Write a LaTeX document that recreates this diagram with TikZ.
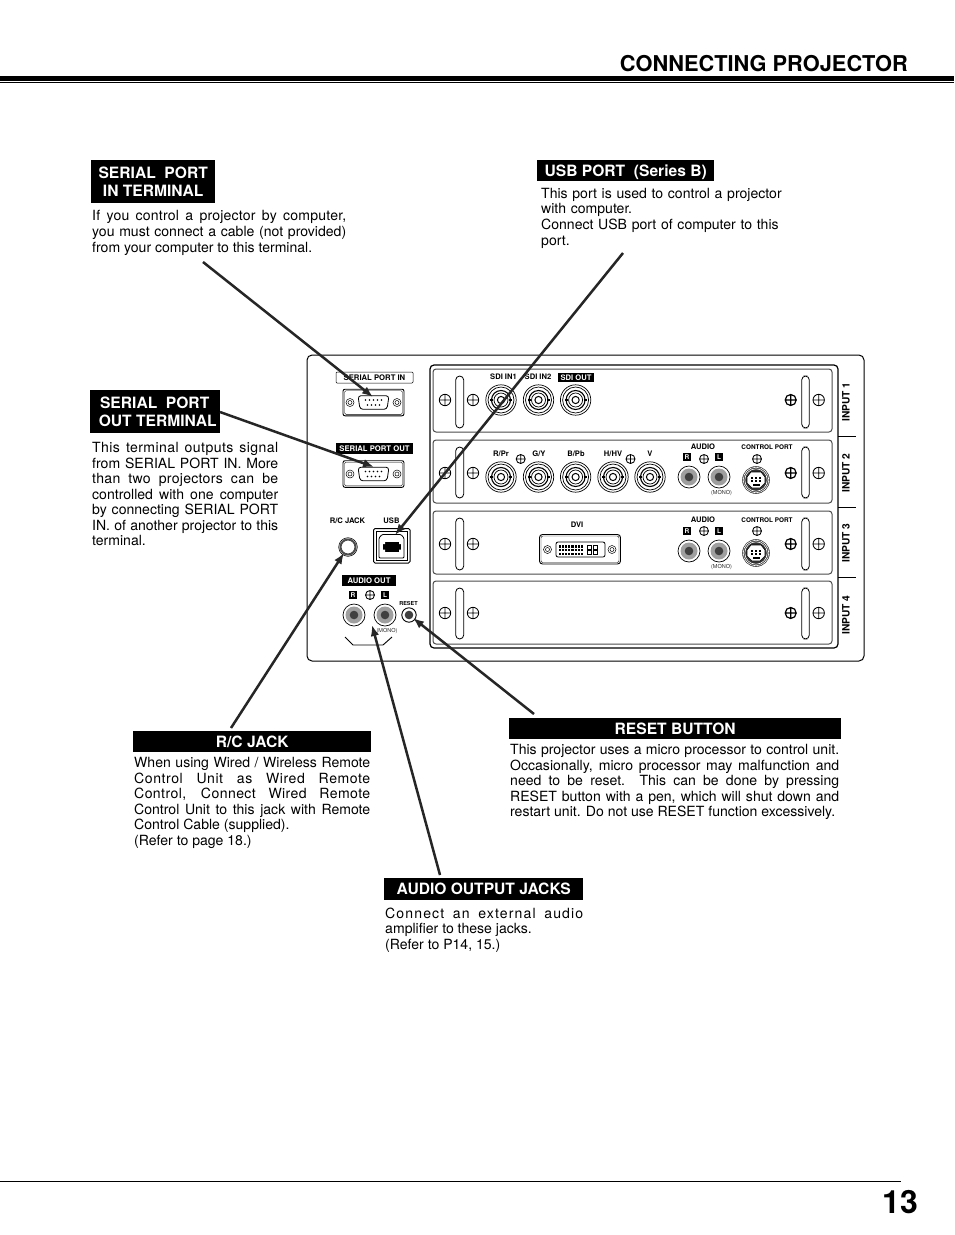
\documentclass[tikz,border=0pt]{standalone}
\usepackage{fontspec}
\setmainfont{TeX Gyre Heros}
\usetikzlibrary{arrows.meta}
\tolerance=10000 \hbadness=10000 \hfuzz=20pt
\newcommand{\LS}[2]{{\addfontfeature{LetterSpace=#1}#2}}
\newcommand{\Screw}[3][5.7]{\draw[screw] (#2,-#3) circle (#1) (#2-#1,-#3) -- (#2+#1,-#3) (#2,-#3-#1) -- (#2,-#3+#1);}
\newcommand{\BoldScrew}[2]{\draw[screw,line width=1.2pt] (#1,-#2) circle (5.5) (#1-5.5,-#2) -- (#1+5.5,-#2) (#1,-#2-5.5) -- (#1,-#2+5.5);}
\newcommand{\Bnc}[2]{\begin{scope}[shift={(#1,-#2)}]
 \draw[thin1] (0,0) circle (15.2) (0,0) circle (13) ;
 \draw[line width=1.1pt] (0,0) circle (9.5);
 \draw[thin1] (0,0) circle (7) ;
 \draw[line width=1pt] (0,0) circle (3.6);
 \draw[line width=1.2pt] (-11,0) -- (-8,0) (8,0) -- (11,0);
\end{scope}}
\newcommand{\Rca}[2]{\begin{scope}[shift={(#1,-#2)}]
 \draw[thin1,fill=white] (0,0) circle (11);
 \fill[gray!75] (0,0) circle (8.5);
 \fill[black!75] (0,0) circle (4.3);
\end{scope}}
\newcommand{\Din}[2]{\begin{scope}[shift={(#1,-#2)}]
 \fill[black!80] (0,0) circle (13.8);
 \draw[white,line width=.6pt] (0,0) circle (11.2) (0,0) circle (12.8);
 \draw[fill=white,line width=.6pt] (-9,3) -- (-9,-3) -- (-4,-8) -- (4,-8) -- (9,-3) -- (9,3) -- (5,8) -- (-5,8) -- cycle;
 \foreach \a/\b in {-4/2,0/2,4/2,-4/-1,0/-1,4/-1}{\fill (\a-1.2,\b-.9) rectangle (\a+1.2,\b+.9);}
 \fill (-3.5,-5.5) rectangle (3.5,-3.8);
\end{scope}}
\newcommand{\Dsub}[2]{\begin{scope}[shift={(#1,-#2)}]
 \draw[line width=.9pt,rounded corners=2] (-30.5,-13.3) rectangle (30.5,13.3);
 \draw[line width=.4pt,rounded corners=1.5] (-29,-11.8) rectangle (29,11.8);
 \draw[line width=.8pt,rounded corners=3] (-15.5,6.8) -- (15.5,6.8) -- (13.5,-6.8) -- (-13.5,-6.8) -- cycle;
 \foreach \a in {-8,-4,0,4,8}{\fill (\a,2.5) circle (.8);}
 \foreach \a in {-6,-2,2,6}{\fill (\a,-2.5) circle (.8);}
 \draw[line width=.5pt] (-23.5,0) circle (4) (-23.5,0) circle (2) (23.5,0) circle (4) (23.5,0) circle (2);
\end{scope}}
\tikzset{
 screw/.style={line width=.85pt,fill=white},
 thin1/.style={line width=.7pt},
 slotbox/.style={line width=1pt,draw=black!70,rounded corners=3},
 grip/.style={line width=.8pt,rounded corners=4},
 head/.style={fill=black,text=white,font=\fontsize{15.6}{18}\selectfont\bfseries,align=center,inner sep=0,minimum height=21,anchor=north west,text height=11.2,text depth=0},
 head2/.style={fill=black,text=white,font=\fontsize{15.6}{18}\selectfont\bfseries,align=center,inner sep=0,minimum height=43,anchor=north west},
 body/.style={font=\fontsize{14.05}{15.55}\selectfont,align=justify,inner sep=0,anchor=north west},
 tiny1/.style={font=\fontsize{7.6}{8}\selectfont\bfseries,inner sep=0},
 tinyw/.style={font=\fontsize{7.6}{8}\selectfont\bfseries,inner sep=0,fill=black,text=white},
 tiny2/.style={font=\fontsize{5.5}{6}\selectfont,inner sep=0,text=black!80},
 inlab/.style={font=\fontsize{10.2}{11}\selectfont\bfseries,inner sep=0,rotate=90},
 lrbox/.style={fill=black,text=white,font=\fontsize{6.5}{7}\selectfont\bfseries,inner sep=0,minimum width=8,minimum height=8},
 pointer/.style={line width=2.5pt,black!85,-{Latex[length=11pt,width=8.5pt]}},
}
\begin{document}
\begin{tikzpicture}[x=1pt,y=1pt]
\useasboundingbox (0,0) rectangle (954,-1235);
\fill[white] (0,0) rectangle (954,-1235);
% header
\node[anchor=base east,inner sep=0,font=\fontsize{21.8}{24}\selectfont\bfseries] (title) at (908,-71) {CONNECTING PROJECTOR};
\fill (0,-76) rectangle (954,-80.7);
\fill (0,-82) rectangle (954,-82.8);
\fill (0,-1181) rectangle (901,-1182);
\node[anchor=base,inner sep=0,font=\fontsize{32}{34}\selectfont\bfseries] (page) at (900,-1213) {13};
% panel
\draw[line width=1pt,rounded corners=5] (307,-355) rectangle (864,-661);
\draw[line width=1.2pt,rounded corners=4] (430,-365) rectangle (838,-648);
\foreach \t/\b in {369/432,440/503,511/574,581/644}{\draw[slotbox] (433,-\t) rectangle (832,-\b);}
\foreach \t/\b in {376/428,447/498,518/570,588/639}{
 \draw[grip] (455.7,-\t) rectangle (463.7,-\b);
 \draw[grip] (801.7,-\t) rectangle (809.3,-\b);}
\foreach \y in {400,473,544,613}{\Screw{445}{\y}\Screw{473}{\y}\BoldScrew{790.7}{\y}\Screw{818.7}{\y}}
\foreach \y in {436,507,577}{\draw[line width=.8pt] (838,-\y) -- (856,-\y);}
\node[inlab] (i1) at (846,-402) {INPUT 1};
\node[inlab] (i2) at (846,-473) {INPUT 2};
\node[inlab] (i3) at (846,-543) {INPUT 3};
\node[inlab] (i4) at (846,-615) {INPUT 4};
% left column
\node[draw,line width=.5pt,rounded corners=1,minimum width=77,minimum height=11,inner sep=0,font=\fontsize{7.7}{8}\selectfont\bfseries] (spin) at (374.5,-377.5) {SERIAL PORT IN};
\node[fill=black,text=white,minimum width=77,minimum height=11,inner sep=0,font=\fontsize{7.7}{8}\selectfont\bfseries] (spout) at (374.5,-448.5) {SERIAL PORT OUT};
\Dsub{373.5}{402.5}
\Dsub{373.5}{474}
\node[tiny1] (rc) at (347.5,-521) {R/C JACK};
\node[tiny1] (usb) at (391.5,-521) {USB};
\draw[line width=2pt,black!70,fill=white] (348,-547) circle (7.5);
\draw[line width=.6pt] (348,-547) circle (9.3);
\draw[line width=1pt,rounded corners=1.5] (373.5,-528.5) rectangle (410,-563);
\draw[line width=.5pt] (376,-531) rectangle (407.5,-560.5);
\draw[line width=.8pt,rounded corners=1] (382,-534.5) -- (401,-534.5) -- (404,-538) -- (404,-558) -- (379,-558) -- (379,-538) -- cycle;
\fill (383,-541.5) rectangle (401,-552) ;
\fill[white] (383,-541.5) rectangle (385,-544) (399,-541.5) rectangle (401,-544) (383,-549.5) rectangle (385,-552) (399,-549.5) rectangle (401,-552);
\node[fill=black,text=white,minimum width=54,minimum height=11,inner sep=0,font=\fontsize{7.7}{8}\selectfont\bfseries] (aout) at (369,-580.5) {AUDIO OUT};
\node[lrbox] (or) at (353,-595) {R};
\node[lrbox] (ol) at (385,-595) {L};
\Screw[4.5]{370}{595}
\Rca{354}{615}
\Rca{385}{615}
\node[tiny1,font=\fontsize{5.5}{6}\selectfont\bfseries] (rs) at (408.5,-603) {RESET};
\draw[line width=.9pt] (409,-615) circle (7.2);
\fill[black!75] (409,-615) circle (4.3);
\node[tiny2] (omono) at (387,-631) {(MONO)};
\draw[line width=.9pt] (345,-637) -- (353,-645) -- (383,-645) -- (392,-637);
% row 1
\node[tiny1] (sd1) at (503.5,-377) {SDI IN1};
\node[tiny1] (sd2) at (538,-377) {SDI IN2};
\node[tinyw,minimum width=36,minimum height=9] (sd3) at (576,-377.5) {SDI OUT};
\Bnc{501}{400}\Bnc{538.5}{400}\Bnc{575.6}{400}
% row 2
\node[tiny1] (r1) at (501,-454) {R/Pr};
\node[tiny1] (r2) at (539,-454) {G/Y};
\node[tiny1] (r3) at (576,-454) {B/Pb};
\node[tiny1] (r4) at (613,-454) {H/HV};
\node[tiny1] (r5) at (650,-454) {V};
\foreach \x in {501,538.5,575.6,613,650}{\Bnc{\x}{477}}
\Screw[4.5]{520.7}{459}\Screw[4.5]{630.5}{459}
% row 2/3 audio
\foreach \n/\t/\b/\s/\j/\m/\d in {a/447/457/459/477/493/480,b/520/531/531/551/567/553}{
 \node[tiny1] (au\n) at (703,-\t) {AUDIO};
 \node[tiny1,font=\fontsize{6.4}{7}\selectfont\bfseries] (cp\n) at (767,-\t) {CONTROL PORT};
 \node[lrbox] (lr\n) at (687,-\b) {R};
 \node[lrbox] (ll\n) at (719,-\b) {L};
 \Screw[4.5]{704}{\s}\Screw[4.5]{757}{\s}
 \Rca{689}{\j}\Rca{719}{\j}
 \node[tiny2] (mo\n) at (721.5,-\m) {(MONO)};
 \Din{756}{\d}
}
% DVI
\node[tiny1] (dvi) at (577,-525) {DVI};
\draw[line width=.9pt,rounded corners=3] (539.5,-534.5) rectangle (620.5,-564);
\draw[line width=.4pt,rounded corners=2] (541,-536) rectangle (619,-562.5);
\draw[line width=.8pt,rounded corners=2] (556,-542) -- (605,-542) -- (605,-557) -- (556,-557) -- cycle;
\foreach \i in {0,...,7}{\foreach \j in {0,1,2}{\fill (558.5+\i*3.2,-545-\j*3.8) rectangle +(2.2,-2.5);}}
\foreach \i in {0,1}{\foreach \j in {0,1}{\draw[line width=.5pt] (587+\i*6,-545.5-\j*5) rectangle +(4,-3.5);}}
\draw[line width=.5pt] (547.5,-549.5) circle (4) (547.5,-549.5) circle (2) (612,-549.5) circle (4) (612,-549.5) circle (2);
% headings
\node[head2,minimum width=124] (h1) at (91,-160) {SERIAL\ \ PORT\\IN TERMINAL};
\node[head,minimum width=177] (h2) at (537,-160) {USB PORT\ \ (Series B)};
\node[head2,minimum width=130] (h3) at (90,-390) {\hspace*{-1pt}SERIAL\ \ PORT\\\hspace*{5pt}OUT TERMINAL};
\node[head,minimum width=238] (h4) at (133,-731) {R/C JACK};
\node[head,minimum width=332] (h5) at (509,-718) {RESET BUTTON};
\node[head,minimum width=199,minimum height=22] (h6) at (384,-878) {AUDIO OUTPUT JACKS};
% body
\node[body,text width=254] (t1) at (92,-210.5) {\LS{1.5}{If you control a projector by computer,}\linebreak you must connect a cable (not provided)\linebreak from your computer to this terminal.};
\node[body,text width=280,align=left] (t2) at (541,-188) {This port is used to control a projector\\with computer.\\Connect USB port of computer to this\\port.};
\node[body,text width=186] (t3) at (92,-442) {\LS{3}{This terminal outputs signal}\linebreak from SERIAL PORT IN. More\linebreak \LS{2}{than two projectors can be}\linebreak controlled with one computer\linebreak by connecting SERIAL PORT\linebreak IN. of another projector to this\linebreak terminal.};
\node[body,text width=236] (t4) at (134,-757) {When using Wired / Wireless Remote\linebreak \LS{4}{Control Unit as Wired Remote}\linebreak \LS{3}{Control, Connect Wired Remote}\linebreak Control Unit to this jack with Remote\linebreak Control Cable (supplied).\newline (Refer to page 18.)};
\node[body,text width=329] (t5) at (510,-744) {This projector uses a micro processor to control unit.\linebreak Occasionally, micro processor may malfunction and\linebreak need to be reset.\ \ This can be done by pressing\linebreak RESET button with a pen, which will shut down and\linebreak restart unit. Do not use RESET function excessively.};
\node[body,text width=198] (t6) at (385,-907.5) {\LS{8}{Connect an external audio}\linebreak amplifier to these jacks.\newline (Refer to P14, 15.)};
% arrows
\coordinate (a1s) at (203,-262); \coordinate (a1e) at (373,-397);
\coordinate (a2s) at (220,-412); \coordinate (a2e) at (374,-467);
\coordinate (a3s) at (623,-253); \coordinate (a3e) at (395,-535);
\coordinate (a4s) at (231,-728); \coordinate (a4e) at (344,-553);
\coordinate (a5s) at (440,-875); \coordinate (a5e) at (372,-625);
\coordinate (a6s) at (534,-714); \coordinate (a6e) at (413,-618);
\foreach \i in {1,...,6}{\draw[pointer] (a\i s) -- (a\i e);}
\end{tikzpicture}
\end{document}
